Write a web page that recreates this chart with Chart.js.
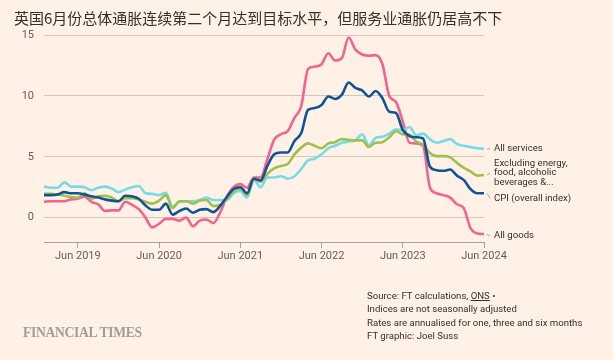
<!DOCTYPE html>
<html>
<head>
<meta charset="utf-8">
<script src="https://cdn.jsdelivr.net/npm/chart.js@4.4.1/dist/chart.umd.min.js"></script>
<style>
  html, body { margin: 0; padding: 0; background: #fff1e5; }
  #wrap { position: relative; width: 613px; height: 360px; overflow: hidden; background: #fff1e5; }
  #chart { position: absolute; left: 0; top: 0; }
  .title { position: absolute; left: 14px; top: 7px; font: 15px "Noto Sans CJK SC", sans-serif; color: #33302e; white-space: nowrap; }
  .footer { position: absolute; left: 367px; top: 289px; font: 9.6px Roboto, sans-serif; line-height: 13.3px; color: #33302e; white-space: nowrap; }
  .footer u { text-decoration-thickness: 1px; }
  .ft { position: absolute; left: 23px; top: 325px; font: bold 13.6px "Liberation Serif", serif; color: #a39c95; letter-spacing: -0.3px; }
</style>
</head>
<body>
<div id="wrap">
  <canvas id="chart" width="613" height="360"></canvas>
  <div class="title">英国6月份总体通胀连续第二个月达到目标水平，但服务业通胀仍居高不下</div>
  <div class="footer">Source: FT calculations, <u>ONS</u> •<br>Indices are not seasonally adjusted<br>Rates are annualised for one, three and six months<br>FT graphic: Joel Suss</div>
  <div class="ft">FINANCIAL TIMES</div>
</div>
<script>
// monthly, Jan 2019 - Jun 2024
const months = [];
const monthNames = ['Jan','Feb','Mar','Apr','May','Jun','Jul','Aug','Sep','Oct','Nov','Dec'];
for (let y = 2019; y <= 2024; y++) {
  for (let m = 0; m < 12; m++) {
    if (y === 2024 && m > 5) break;
    months.push(monthNames[m] + ' ' + y);
  }
}

const cpi = [
  1.85, 1.85, 1.9, 2.1, 2.0, 2.0, 1.9, 1.75, 1.65, 1.5, 1.4, 1.35,
  1.8, 1.75, 1.55, 1.0, 0.65, 0.65, 1.15, 0.25, 0.55, 0.75, 0.4, 0.65,
  0.7, 0.45, 0.95, 1.7, 2.35, 2.5, 2.0, 3.2, 3.05, 4.25, 5.2, 5.35,
  5.35, 6.3, 6.95, 8.85, 9.0, 9.25, 9.95, 9.75, 10.1, 11.1, 10.65, 10.45,
  9.95, 10.4, 9.8, 8.7, 8.6, 7.2, 6.7, 6.6, 6.5, 4.2, 3.9, 3.85,
  3.95, 3.45, 3.1, 2.35, 2.0, 2.0
];
const core = [
  1.95, 1.95, 1.9, 1.8, 1.7, 1.65, 2.0, 1.55, 1.75, 1.8, 1.65, 1.35,
  1.6, 1.6, 1.5, 1.3, 1.15, 1.4, 1.85, 0.8, 1.35, 1.35, 1.15, 1.4,
  1.45, 0.95, 1.05, 1.5, 2.15, 2.35, 1.85, 3.2, 2.95, 3.6, 4.05, 4.25,
  4.4, 5.2, 5.75, 6.1, 5.9, 5.7, 6.1, 6.2, 6.45, 6.4, 6.35, 6.35,
  5.8, 6.15, 6.2, 6.6, 7.1, 6.85, 6.8, 6.25, 6.0, 5.3, 5.05, 5.05,
  4.95, 4.5, 4.1, 3.8, 3.45, 3.5
];
const services = [
  2.55, 2.45, 2.45, 2.9, 2.55, 2.55, 2.5, 2.25, 2.45, 2.55, 2.4, 2.1,
  2.3, 2.5, 2.6, 2.0, 1.95, 1.85, 2.05, 0.9, 1.3, 1.35, 1.35, 1.45,
  1.65, 1.45, 1.45, 1.45, 2.0, 2.2, 1.65, 3.1, 2.5, 3.3, 3.3, 3.4,
  3.2, 3.4, 4.0, 4.7, 4.85, 5.2, 5.7, 5.9, 6.15, 6.25, 6.35, 6.85,
  5.95, 6.55, 6.65, 6.9, 7.25, 7.2, 7.45, 6.75, 6.9, 6.45, 6.15, 6.3,
  6.45, 6.05, 5.9, 5.8, 5.7, 5.65
];
const goods = [
  1.3, 1.35, 1.35, 1.35, 1.5, 1.55, 1.75, 1.3, 1.1, 0.55, 0.6, 0.6,
  1.3, 1.05, 0.7, 0.0, -0.8, -0.5, -0.1, -0.1, -0.25, 0.0, -0.7, -0.25,
  -0.15, -0.45, 0.4, 1.7, 2.5, 2.75, 2.45, 3.3, 3.3, 4.8, 6.4, 6.85,
  7.1, 8.2, 9.15, 12.2, 12.4, 12.6, 13.5, 12.9, 13.1, 14.8, 13.8, 13.4,
  13.3, 13.35, 12.6, 10.0, 9.5, 7.9, 6.15, 6.1, 5.9, 2.5, 2.0, 1.85,
  1.65, 1.1, 0.8, -0.85, -1.3, -1.35
];

const yTicks = [0, 5, 10, 15];

// label text and nudge (px) for the end labels
const endLabels = [
  { lines: ['All services'], data: services, nudge: 0 },
  { lines: ['Excluding energy,', 'food, alcoholic', 'beverages &...'], data: core, nudge: -2 },
  { lines: ['CPI (overall index)'], data: cpi, nudge: 5 },
  { lines: ['All goods'], data: goods, nudge: 2 }
];

const endLabelPlugin = {
  id: 'endLabels',
  afterDatasetsDraw(chart) {
    const ctx = chart.ctx;
    const ys = chart.scales.y;
    const xr = chart.chartArea.right;
    ctx.save();
    ctx.font = '9.6px Roboto, sans-serif';
    ctx.textBaseline = 'middle';
    endLabels.forEach(l => {
      const dy = ys.getPixelForValue(l.data[l.data.length - 1]);
      const ly = dy + l.nudge;
      ctx.strokeStyle = '#a8a09a';
      ctx.lineWidth = 1;
      ctx.beginPath();
      ctx.moveTo(xr + 3, dy);
      ctx.lineTo(xr + 6, ly);
      ctx.stroke();
      ctx.fillStyle = '#33302e';
      const lh = 9.6;
      const y0 = ly - (l.lines.length - 1) * lh / 2;
      l.lines.forEach((t, i) => ctx.fillText(t, xr + 10, y0 + i * lh));
    });
    ctx.restore();
  }
};

function ds(label, data, color) {
  return {
    label: label,
    data: data,
    borderColor: color,
    borderWidth: 2.6,
    pointRadius: 0,
    fill: false,
    cubicInterpolationMode: 'monotone'
  };
}

new Chart(document.getElementById('chart'), {
  type: 'line',
  data: {
    labels: months,
    datasets: [
      ds('CPI (overall index)', cpi, '#0f5499'),
      ds('Excluding energy, food, alcoholic beverages & tobacco', core, '#9fc14c'),
      ds('All services', services, '#76dbe9'),
      ds('All goods', goods, '#f0648d')
    ]
  },
  options: {
    responsive: false,
    animation: false,
    layout: { padding: { top: 35, right: 129, left: 0, bottom: 0 } },
    plugins: { legend: { display: false }, tooltip: { enabled: false } },
    scales: {
      x: {
        afterFit: s => { s.height = 118; },
        afterBuildTicks: s => { s.ticks = s.ticks.filter(t => t.value % 12 === 5); },
        grid: { drawOnChartArea: false, drawTicks: true, tickLength: 6, color: '#a8a09a' },
        border: { display: true, color: '#a8a09a' },
        ticks: {
          autoSkip: false, maxRotation: 0, padding: 2,
          color: '#66605c', font: { family: 'Roboto', size: 11 },
          callback: function (v) { return this.getLabelForValue(v); }
        }
      },
      y: {
        min: -2, max: 15,
        afterFit: s => { s.width = 44; },
        afterBuildTicks: s => { s.ticks = yTicks.map(v => ({ value: v })); },
        grid: { color: '#d3c7bc', drawTicks: false },
        border: { display: false },
        ticks: { padding: 10, color: '#66605c', font: { family: 'Roboto', size: 11 } }
      }
    }
  },
  plugins: [endLabelPlugin]
});
</script>
</body>
</html>
